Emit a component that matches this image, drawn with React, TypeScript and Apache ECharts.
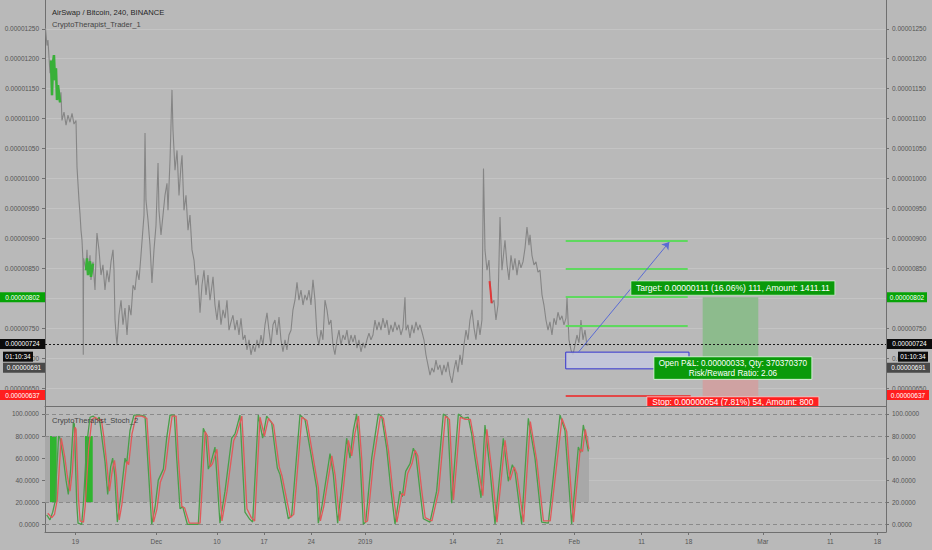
import React, { useEffect, useRef } from "react";
import * as echarts from "echarts";

const FONT = "'Liberation Sans', Arial, sans-serif";

// ---- x axis (days since 15 Nov 2018) ----
const X_MIN = -0.51;
const X_MAX = 124.27;
const xTickDays = [4, 16, 25, 32, 39, 47, 60, 67, 78, 88, 95, 106, 116, 123];
const xTickLabels = ["19", "Dec", "10", "17", "24", "2019", "14", "21", "Feb", "11", "18", "Mar", "11", "18"];

// ---- price axis (satoshi, 1e-8 BTC) ----
const P_MIN = 620.5;
const P_MAX = 1298;
const priceGrid = [650, 700, 750, 800, 850, 900, 950, 1000, 1050, 1100, 1150, 1200, 1250];
const priceLabels = [650, 700, 750, 850, 900, 950, 1000, 1050, 1100, 1150, 1200, 1250];

// ---- stoch axis ----
const S_MIN = -7;
const S_MAX = 107.2;
const stochTicks = [0, 20, 40, 60, 80, 100];
const stochDashed = [0, 20, 80, 100];
const stochFaint = [40, 60];

// price path [day, satoshi]
const priceData: [number, number][] = [
  [-0.44,1251],[-0.21,1222],[-0.07,1231],[0.23,1176],[0.38,1197],[0.53,1139],[0.68,1194],[0.82,1206],[0.97,1164],[1.12,1184],[1.27,1131],[1.42,1156],[1.72,1127],[1.86,1144],[2.01,1097],[2.31,1111],[2.61,1089],[2.90,1106],[3.20,1094],[3.50,1109],[3.79,1091],[4.09,1097],[4.24,1019],[4.53,964],[4.68,942],[4.83,914],[4.98,897],[5.13,861],[5.17,706],[5.22,867],[5.57,847],[5.72,881],[5.87,839],[6.17,872],[6.31,831],[6.61,861],[6.91,814],[7.06,872],[7.20,909],[7.50,881],[7.80,839],[8.09,856],[8.39,814],[8.69,847],[8.98,827],[9.28,861],[9.58,881],[9.73,847],[9.88,764],[10.02,742],[10.17,722],[10.47,772],[10.77,797],[11.06,756],[11.36,784],[11.66,739],[11.95,789],[12.25,772],[12.55,822],[12.84,814],[13.14,847],[13.44,831],[13.73,872],[14.03,917],[14.18,939],[14.33,1076],[14.47,964],[14.77,931],[15.07,889],[15.36,826],[15.66,881],[15.96,922],[16.26,1026],[16.40,947],[16.70,906],[17.00,939],[17.29,972],[17.59,992],[17.74,947],[18.04,1031],[18.33,1148],[18.48,1081],[18.78,1014],[19.08,1047],[19.37,972],[19.67,1022],[19.82,1039],[20.11,947],[20.41,972],[20.71,914],[21.00,939],[21.30,881],[21.60,864],[21.89,822],[22.19,839],[22.49,776],[22.78,822],[23.08,847],[23.38,806],[23.67,839],[23.97,797],[24.27,822],[24.42,836],[24.71,789],[25.01,764],[25.31,797],[25.60,756],[25.90,781],[26.20,767],[26.49,797],[26.79,747],[27.09,761],[27.38,772],[27.68,747],[27.98,764],[28.27,739],[28.57,767],[28.87,731],[29.16,739],[29.46,714],[29.76,731],[30.05,706],[30.35,722],[30.65,711],[30.94,731],[31.24,717],[31.54,739],[31.83,722],[32.13,756],[32.43,776],[32.72,747],[33.02,722],[33.32,756],[33.61,764],[33.91,739],[34.21,769],[34.50,731],[34.80,711],[35.10,731],[35.39,714],[35.69,739],[35.99,747],[36.28,781],[36.58,797],[36.88,827],[37.17,797],[37.47,814],[37.77,789],[38.06,806],[38.36,797],[38.66,814],[38.95,789],[39.25,831],[39.55,797],[39.84,739],[40.14,722],[40.44,747],[40.73,731],[41.03,797],[41.33,781],[41.62,756],[41.92,764],[42.22,722],[42.51,706],[42.81,731],[43.11,747],[43.40,722],[43.70,739],[44.00,731],[44.29,747],[44.59,722],[44.89,739],[45.18,727],[45.48,739],[45.78,717],[46.07,731],[46.37,711],[46.67,726],[46.96,717],[47.26,731],[47.56,742],[47.85,731],[48.15,739],[48.45,764],[48.74,747],[49.04,761],[49.34,747],[49.63,767],[49.93,751],[50.23,764],[50.52,739],[50.82,756],[51.12,744],[51.41,761],[51.71,747],[52.01,756],[52.30,739],[52.60,751],[52.90,802],[53.05,747],[53.34,756],[53.64,734],[53.94,756],[54.23,742],[54.53,761],[54.83,747],[55.12,756],[55.42,744],[55.72,731],[56.01,706],[56.31,689],[56.61,672],[56.90,684],[57.20,677],[57.50,697],[57.79,681],[58.09,689],[58.39,672],[58.68,689],[58.98,677],[59.28,694],[59.57,672],[59.87,659],[60.17,681],[60.47,697],[60.76,677],[61.06,706],[61.36,689],[61.65,722],[61.95,747],[62.25,731],[62.54,764],[62.84,781],[63.14,751],[63.43,731],[63.73,764],[64.03,739],[64.32,764],[64.55,1017],[64.77,881],[65.07,847],[65.36,864],[65.59,814],[65.81,792],[66.11,797],[66.40,764],[66.70,789],[67.00,936],[67.29,847],[67.59,881],[67.74,897],[68.04,856],[68.33,831],[68.63,872],[68.93,847],[69.22,867],[69.52,839],[69.82,864],[70.11,851],[70.41,861],[70.71,884],[71.00,919],[71.30,889],[71.45,906],[71.74,872],[72.04,856],[72.34,861],[72.63,844],[72.93,847],[73.23,806],[73.52,789],[73.82,764],[74.12,747],[74.41,761],[74.71,739],[75.01,767],[75.30,756],[75.60,777],[75.90,764],[76.19,771],[76.49,756],[76.79,767],[76.94,802],[77.23,731],[77.53,714],[77.83,706],[78.12,722],[78.42,739],[78.72,726],[79.01,764],[79.31,731],[79.61,747],[79.90,722],[80.20,724]
];
const greenCandlesA: [number, number][] = [[0.38,1197],[0.53,1139],[0.68,1194],[0.82,1206],[0.97,1164],[1.12,1184],[1.27,1131],[1.42,1156],[1.72,1127]];
const greenCandlesB: [number, number][] = [[5.57,847],[5.72,867],[5.87,839],[6.17,862],[6.31,836],[6.61,858]];
const redCandles: [number, number][] = [[65.45,829],[65.59,814],[65.75,792]];

// stochastic %K and %D [day, value]
const stochK: [number, number][] = [
  [-0.26,8.5],[0.23,4],[0.63,11],[0.97,20],[1.22,48],[1.52,80],[1.72,78],[2.21,60],[2.61,40],[2.95,27],[3.30,50],[3.69,92],[3.84,91],[4.19,20],[4.39,1],[4.93,0],[5.18,18],[5.67,72],[6.17,97],[6.66,98],[7.16,95],[7.55,97],[7.90,80],[8.39,57],[8.79,27],[9.23,52],[9.53,60],[9.83,45],[10.22,2],[10.62,20],[11.36,60],[11.61,55],[12.10,85],[12.69,99],[13.58,99],[14.33,98],[14.82,50],[15.32,0],[15.81,15],[16.30,40],[17.05,50],[17.54,78],[18.04,99],[18.68,99],[19.03,60],[19.52,14],[19.92,16],[20.26,8],[20.61,0],[22.24,0],[22.58,40],[22.98,87],[23.33,82],[23.72,50],[24.07,55],[24.71,70],[25.45,1],[26.20,30],[27.19,78],[27.68,82],[28.42,99],[29.16,11],[29.81,5],[30.30,2],[31.14,99],[31.78,78],[32.38,98],[33.12,92],[33.96,51],[34.36,45],[35.59,5],[36.09,8],[37.32,99],[38.06,95],[39.05,60],[39.79,33],[40.04,1],[40.54,15],[41.78,64],[42.27,45],[42.91,1],[43.51,35],[44.25,78],[44.74,60],[45.24,85],[45.73,100],[46.23,60],[46.72,0],[47.07,2],[47.96,60],[48.95,100],[49.44,98],[50.18,69],[50.83,30],[51.42,0],[52.16,30],[52.51,25],[53.00,48],[53.65,55],[54.14,69],[54.49,64],[55.13,30],[55.62,5],[56.61,2],[57.60,30],[58.59,100],[59.23,97],[59.83,19],[60.32,60],[60.82,100],[61.56,96],[62.30,97],[62.79,82],[63.29,60],[64.18,24],[64.77,90],[65.51,50],[66.26,0],[67.49,78],[68.23,39],[68.83,54],[69.22,48],[70.21,0],[71.20,96],[72.19,60],[73.18,2],[74.17,1],[75.90,99],[76.64,85],[77.63,0],[78.62,70],[78.97,65],[79.36,90],[80.11,66]
];
const stochD: [number, number][] = [
  [-0.1,10],[0.5,6],[0.9,9],[1.3,22],[1.6,50],[1.9,78],[2.4,62],[2.8,44],[3.2,30],[3.55,48],[3.95,88],[4.1,86],[4.45,24],[4.7,3],[5.2,2],[5.45,16],[5.95,68],[6.45,95],[6.95,97],[7.45,94],[7.85,95],[8.2,80],[8.65,55],[9.05,30],[9.5,50],[9.8,58],[10.1,42],[10.5,4],[10.9,18],[11.65,57],[11.9,54],[12.4,82],[13.0,98],[13.85,98],[14.6,96],[15.1,48],[15.6,2],[16.1,14],[16.6,38],[17.35,50],[17.85,76],[18.35,98],[18.95,98],[19.3,58],[19.8,16],[20.2,15],[20.55,8],[20.9,1],[22.5,1],[22.85,38],[23.25,84],[23.6,80],[24.0,52],[24.35,55],[25.0,68],[25.75,3],[26.5,30],[27.5,76],[27.95,82],[28.7,98],[29.45,14],[30.1,6],[30.6,3],[31.4,97],[32.05,80],[32.65,96],[33.4,90],[34.25,52],[34.65,44],[35.9,6],[36.4,9],[37.6,97],[38.35,94],[39.35,58],[40.05,33],[40.35,3],[40.85,16],[42.05,62],[42.55,44],[43.2,3],[43.8,35],[44.5,76],[45.0,62],[45.5,83],[46.0,98],[46.5,58],[47.0,2],[47.35,3],[48.25,58],[49.25,98],[49.7,96],[50.45,67],[51.1,30],[51.7,2],[52.45,28],[52.8,26],[53.3,46],[53.95,55],[54.4,67],[54.8,62],[55.4,30],[55.9,6],[56.9,3],[57.9,30],[58.9,98],[59.5,95],[60.1,22],[60.6,58],[61.1,97],[61.85,95],[62.6,95],[63.05,80],[63.6,58],[64.45,26],[65.05,86],[65.8,48],[66.55,2],[67.75,76],[68.5,40],[69.1,52],[69.5,46],[70.5,2],[71.5,93],[72.45,58],[73.45,3],[74.45,3],[76.2,96],[76.9,84],[77.9,2],[78.9,68],[79.25,66],[79.65,86],[80.2,68]
];
const stochBandEnd = 80.2;
const stochSignalBars: [number, number][] = [[0.23, 1.22], [5.42, 6.57]];

// ---- long position tool ----
const lastPrice = 724;
const entryPrice = 691;
const targetPrice = 802;
const stopPrice = 637;
const targetLevels = [755, 802, 849, 896];
const toolStartDay = 76.75;
const toolEndDay = 94.85;
const stopLineEndDay = 95.29;
const entryBox = { x1: 76.75, x2: 95.04, lo: 682.5, hi: 710.4 };
const arrowFrom: [number, number] = [78.61, 710];
const arrowTo: [number, number] = [92.11, 894];
const zoneStartDay = 97.07;
const zoneEndDay = 105.32;
const labelCenterDay = 101.55;

const titleText = "AirSwap / Bitcoin, 240, BINANCE";
const subtitleText = "CryptoTherapist_Trader_1";
const stochTitle = "CryptoTherapist_Stoch_2";
const countdown = "01:10:34";
const targetText = "Target: 0.00000111 (16.06%) 111, Amount: 1411.11";
const pnlText1 = "Open P&L: 0.00000033, Qty: 370370370";
const pnlText2 = "Risk/Reward Ratio: 2.06";
const stopText = "Stop: 0.00000054 (7.81%) 54, Amount: 800";

const fmtPrice = (v: number) => (v / 1e8).toFixed(8);

const BG = "#b9b9b9";
const AXIS = "#6f6f6f";
const LBL = "#555555";

export default function App() {
  const ref = useRef<HTMLDivElement>(null);

  useEffect(() => {
    document.body.style.margin = "0";
    const el = ref.current!;
    const chart = echarts.init(el, null, { renderer: "svg" });

    const yAxisBase = (grid: number, pos: "left" | "right", min: number, max: number, ticks: number[], labels: number[], fmt: (v: number) => string) => ({
      type: "value",
      gridIndex: grid,
      position: pos,
      min,
      max,
      axisLine: { show: true, onZero: false, lineStyle: { color: AXIS, width: 1 } },
      axisTick: { show: true, length: 3, customValues: ticks, lineStyle: { color: AXIS } },
      axisLabel: { show: true, customValues: labels, formatter: fmt, fontSize: 6.5, color: LBL, fontFamily: FONT, margin: 6 },
      splitLine: { show: false },
    });

    const option: any = {
      animation: false,
      backgroundColor: BG,
      textStyle: { fontFamily: FONT },
      grid: [
        { left: 45, right: 46, top: 0, height: 406 },
        { left: 45, right: 46, top: 406, height: 126 },
      ],
      xAxis: [
        {
          type: "value", gridIndex: 0, min: X_MIN, max: X_MAX,
          axisLine: { show: true, onZero: false, lineStyle: { color: AXIS } },
          axisTick: { show: false }, axisLabel: { show: false }, splitLine: { show: false },
        },
        {
          type: "value", gridIndex: 1, min: X_MIN, max: X_MAX,
          axisLine: { show: true, onZero: false, lineStyle: { color: AXIS } },
          axisTick: { show: true, length: 3, customValues: xTickDays, lineStyle: { color: AXIS } },
          axisLabel: {
            show: true, customValues: xTickDays, fontSize: 6.5, color: LBL, fontFamily: FONT, margin: 6,
            formatter: (v: number) => {
              const i = xTickDays.indexOf(v);
              return i >= 0 ? xTickLabels[i] : "";
            },
          },
          splitLine: { show: false },
        },
      ],
      yAxis: [
        yAxisBase(0, "left", P_MIN, P_MAX, priceGrid, priceLabels, fmtPrice),
        yAxisBase(0, "right", P_MIN, P_MAX, priceGrid, priceLabels, fmtPrice),
        yAxisBase(1, "left", S_MIN, S_MAX, stochTicks, stochTicks, (v: number) => v.toFixed(4)),
        yAxisBase(1, "right", S_MIN, S_MAX, stochTicks, stochTicks, (v: number) => v.toFixed(4)),
      ],
      series: [
        // 0 price
        {
          name: "price", type: "line", xAxisIndex: 0, yAxisIndex: 0, data: priceData,
          showSymbol: false, silent: true, z: 2,
          lineStyle: { color: "#858585", width: 1.1 },
        },
        { type: "line", xAxisIndex: 0, yAxisIndex: 0, data: greenCandlesA, showSymbol: false, silent: true, z: 3, lineStyle: { color: "#38b038", width: 2.5 } },
        { type: "line", xAxisIndex: 0, yAxisIndex: 0, data: greenCandlesB, showSymbol: false, silent: true, z: 3, lineStyle: { color: "#38b038", width: 2.5 } },
        { type: "line", xAxisIndex: 0, yAxisIndex: 0, data: redCandles, showSymbol: false, silent: true, z: 3, lineStyle: { color: "#e03838", width: 2 } },
        // main grid lines
        {
          type: "line", xAxisIndex: 0, yAxisIndex: 0, data: [], silent: true,
          markLine: {
            silent: true, symbol: "none", z: 0, label: { show: false },
            lineStyle: { color: "#c4c4c4", width: 1, type: "solid" },
            data: priceGrid.map((v) => ({ yAxis: v })),
          },
        },
        // profit / loss zones + target & stop lines
        {
          type: "line", xAxisIndex: 0, yAxisIndex: 0, data: [], silent: true,
          markArea: {
            silent: true, z: 1, label: { show: false },
            data: [
              [{ coord: [zoneStartDay, targetPrice], itemStyle: { color: "#8dbb8d" } }, { coord: [zoneEndDay, entryPrice] }],
              [{ coord: [zoneStartDay, entryPrice], itemStyle: { color: "#cfa2a2" } }, { coord: [zoneEndDay, stopPrice] }],
            ],
          },
          markLine: {
            silent: true, symbol: "none", z: 4, label: { show: false },
            data: [
              ...targetLevels.map((v) => [
                { coord: [toolStartDay, v], lineStyle: { color: "#5fd85f", width: 2, type: "solid" } },
                { coord: [toolEndDay, v] },
              ]),
              [
                { coord: [toolStartDay, stopPrice], lineStyle: { color: "#e24848", width: 2, type: "solid" } },
                { coord: [stopLineEndDay, stopPrice] },
              ],
            ],
          },
        },
        // entry box + last price dotted line
        {
          type: "line", xAxisIndex: 0, yAxisIndex: 0, data: [], silent: true,
          markArea: {
            silent: true, z: 3, label: { show: false },
            data: [[
              { coord: [entryBox.x1, entryBox.hi], itemStyle: { color: "rgba(196,200,222,0.85)", borderColor: "#3434d0", borderWidth: 1 } },
              { coord: [entryBox.x2, entryBox.lo] },
            ]],
          },
          markLine: {
            silent: true, symbol: "none", z: 4, label: { show: false },
            lineStyle: { color: "#1a1a1a", width: 1, type: [2, 2] },
            data: [{ yAxis: lastPrice }],
          },
        },
        // arrow
        {
          type: "line", xAxisIndex: 0, yAxisIndex: 0, data: [], silent: true,
          markLine: {
            silent: true, symbol: ["none", "arrow"], symbolSize: 7, z: 4, label: { show: false },
            lineStyle: { color: "#5a6bd4", width: 1, type: "solid" },
            data: [[{ coord: arrowFrom }, { coord: arrowTo }]],
          },
        },
        // stoch: faint grid + band
        {
          type: "line", xAxisIndex: 1, yAxisIndex: 2, data: [], silent: true,
          markLine: {
            silent: true, symbol: "none", z: 0, label: { show: false },
            lineStyle: { color: "#c2c2c2", width: 1, type: "solid" },
            data: stochFaint.map((v) => ({ yAxis: v })),
          },
          markArea: {
            silent: true, z: 1, label: { show: false },
            data: [[{ coord: [X_MIN, 80], itemStyle: { color: "#a8a8a8" } }, { coord: [stochBandEnd, 20] }]],
          },
        },
        // stoch: signal bars + dashed levels
        {
          type: "line", xAxisIndex: 1, yAxisIndex: 2, data: [], silent: true,
          markArea: {
            silent: true, z: 1.5, label: { show: false },
            data: stochSignalBars.map(([a, b]) => [
              { coord: [a, 80], itemStyle: { color: "#2fb52f" } },
              { coord: [b, 20] },
            ]),
          },
          markLine: {
            silent: true, symbol: "none", z: 1.8, label: { show: false },
            lineStyle: { color: "#8a8a8a", width: 1, type: [4, 3] },
            data: stochDashed.map((v) => ({ yAxis: v })),
          },
        },
        {
          name: "K", type: "line", xAxisIndex: 1, yAxisIndex: 2, data: stochK,
          showSymbol: false, silent: true, z: 3,
          lineStyle: { color: "#4a9e4a", width: 1.3 },
        },
        {
          name: "D", type: "line", xAxisIndex: 1, yAxisIndex: 2, data: stochD,
          showSymbol: false, silent: true, z: 4,
          lineStyle: { color: "#e05a5a", width: 1.3 },
        },
      ],
    };

    chart.setOption(option);

    const px = (d: number, v: number) => chart.convertToPixel({ seriesIndex: 0 }, [d, v]) as number[];
    const py = (v: number) => px(0, v)[1];

    const box = (x: number, y: number, w: number, h: number, fill: string, text: string, color = "#ffffff", fontSize = 6.5, stroke?: string) => ({
      type: "group",
      z: 100,
      children: [
        { type: "rect", shape: { x, y, width: w, height: h }, style: { fill, stroke: stroke || null, lineWidth: stroke ? 1 : 0 }, z: 100 },
        {
          type: "text", x: x + w / 2, y: y + h / 2, z: 101,
          style: { text, fill: color, fontSize, fontFamily: FONT, align: "center", verticalAlign: "middle" },
        },
      ],
    });

    const yLast = py(lastPrice);
    const yEntry = py(entryPrice);
    const yTarget = py(targetPrice);
    const yStop = py(stopPrice);
    const cx = px(labelCenterDay, entryPrice)[0];

    const graphics: any[] = [
      { type: "text", x: 52, y: 12, z: 100, style: { text: titleText, fill: "#262626", fontSize: 7.6, fontFamily: FONT, verticalAlign: "middle" } },
      { type: "text", x: 52, y: 24, z: 100, style: { text: subtitleText, fill: "#444444", fontSize: 7.6, fontFamily: FONT, verticalAlign: "middle" } },
      { type: "text", x: 52, y: 420, z: 100, style: { text: stochTitle, fill: "#444444", fontSize: 7.6, fontFamily: FONT, verticalAlign: "middle" } },
      // left axis price labels
      box(0, yTarget - 5, 45, 10, "#07a307", fmtPrice(targetPrice)),
      box(0, yLast - 5, 45, 10, "#0c0c0c", fmtPrice(lastPrice)),
      box(3, yLast + 7.7, 30, 10, "#0c0c0c", countdown),
      box(3, yEntry - 1, 42, 10, "#4a4a4a", fmtPrice(entryPrice)),
      box(0, yStop - 6, 45, 10, "#ff1f1f", fmtPrice(stopPrice)),
      // right axis price labels
      box(887, yTarget - 5, 40, 10, "#07a307", fmtPrice(targetPrice)),
      box(887, yLast - 5, 45, 10, "#0c0c0c", fmtPrice(lastPrice)),
      box(898, yLast + 7.7, 30, 10, "#0c0c0c", countdown),
      box(887, yEntry - 1, 43, 10, "#4a4a4a", fmtPrice(entryPrice)),
      box(887, yStop - 6, 42, 10, "#ff1f1f", fmtPrice(stopPrice)),
      // position tool labels
      box(cx - 102, yTarget - 16.3, 204, 14.3, "#0a9a0a", targetText, "#ffffff", 8.6, "rgba(220,245,220,0.7)"),
      {
        type: "group", z: 100,
        children: [
          { type: "rect", z: 100, shape: { x: cx - 79, y: yEntry - 7, width: 158, height: 22.6 }, style: { fill: "#0a9a0a", stroke: "rgba(225,250,225,0.85)", lineWidth: 1 } },
          { type: "text", z: 101, x: cx, y: yEntry - 0.6, style: { text: pnlText1, fill: "#ffffff", fontSize: 8.2, fontFamily: FONT, align: "center", verticalAlign: "middle" } },
          { type: "text", z: 101, x: cx, y: yEntry + 9.6, style: { text: pnlText2, fill: "#ffffff", fontSize: 8.2, fontFamily: FONT, align: "center", verticalAlign: "middle" } },
        ],
      },
      box(cx - 86, yStop + 0.7, 172, 10.6, "#ff1f1f", stopText, "#ffffff", 8.4, "rgba(255,220,220,0.7)"),
      // separator over the stop label bottom
      { type: "line", z: 102, shape: { x1: 45, y1: 406.5, x2: 886, y2: 406.5 }, style: { stroke: AXIS, lineWidth: 1 } },
    ];

    chart.setOption({ graphic: graphics });

    return () => chart.dispose();
  }, []);

  return (
    <div
      ref={ref}
      style={{ position: "absolute", left: 0, top: 0, width: 932, height: 550, background: BG }}
    />
  );
}
